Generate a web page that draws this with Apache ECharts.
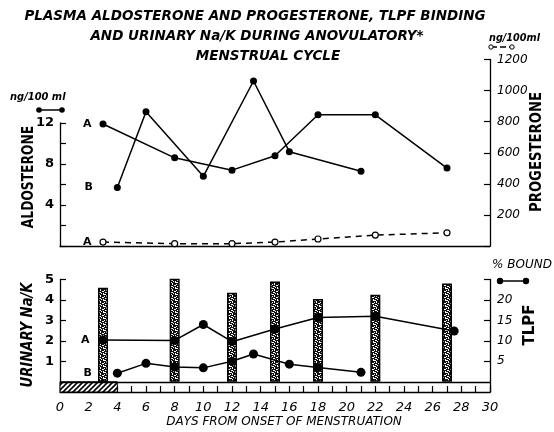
<!DOCTYPE html>
<html><head><meta charset="utf-8">
<script src="https://cdn.jsdelivr.net/npm/echarts@6/dist/echarts.min.js"></script>
<style>html,body{margin:0;padding:0;background:#fff}#c{width:554px;height:432px}</style>
</head><body><div id="c"></div>
<script>
// ---- data ----
const aldoADays = [3, 8, 12, 15, 18, 22, 27];
const aldoAValues = [11.9, 8.6, 7.4, 8.8, 12.8, 12.8, 7.6];
const aldoBDays = [4, 6, 10, 13.5, 16, 21];
const aldoBValues = [5.7, 13.1, 6.8, 16.1, 9.2, 7.3];
const progADays = [3, 8, 12, 15, 18, 22, 27];
const progAValues = [25, 15, 15, 25, 45, 70, 85];
const naKDays = [3, 8, 12, 15, 18, 22, 27];
const naKValues = [4.6, 5.1, 4.35, 4.9, 4.05, 4.25, 4.8];
const tlpfADays = [3, 8, 10, 12, 15, 18, 22, 27.5];
const tlpfAValues = [10.2, 10.1, 14.0, 9.8, 12.9, 15.7, 16.0, 12.4];
const tlpfBDays = [4, 6, 8, 10, 12, 13.5, 16, 18, 21];
const tlpfBValues = [2.1, 4.5, 3.6, 3.4, 5.0, 6.8, 4.3, 3.5, 2.3];
const aldoLabelTicks = [4, 8, 12];
const naKTicks = [1, 2, 3, 4, 5];
const tlpfTickValues = [5, 10, 15, 20, 25];
const tlpfLabelTicks = [5, 10, 15, 20];
const hatchDays = [0, 4];
const naKAxisMin = -0.5;
const tlpfAxisMin = -2.5;

// ---- patterns (styling only) ----
function makeBarPattern() {
  const c = document.createElement('canvas'); c.width = 6; c.height = 6;
  const g = c.getContext('2d');
  g.fillStyle = '#111'; g.fillRect(0, 0, 6, 6);
  g.fillStyle = '#fff';
  [[1,0,2,1],[4,1,1,2],[0,3,2,1],[2,2,1,1],[3,4,2,1],[5,5,1,1],[1,5,1,1],[3,0,1,1]].forEach(r => g.fillRect(r[0], r[1], r[2], r[3]));
  return c;
}
function makeHatch() {
  const c = document.createElement('canvas'); c.width = 5; c.height = 5;
  const g = c.getContext('2d');
  g.fillStyle = '#fff'; g.fillRect(0, 0, 5, 5);
  g.strokeStyle = '#000'; g.lineWidth = 1.6;
  g.beginPath(); g.moveTo(-1, 6); g.lineTo(6, -1); g.stroke();
  g.beginPath(); g.moveTo(-1, 1); g.lineTo(1, -1); g.stroke();
  g.beginPath(); g.moveTo(4, 6); g.lineTo(6, 4); g.stroke();
  return c;
}

const FONT = 'DejaVu Sans';
function pairs(xs, ys, firstLabel) {
  return xs.map((x, i) => {
    const item = { value: [x, ys[i]] };
    if (i === 0 && firstLabel) item.label = firstLabel;
    return item;
  });
}
function lbl(text, dist) {
  return { show: true, formatter: text, position: 'left', distance: dist, color: '#000',
           fontFamily: FONT, fontWeight: 'bold', fontSize: 11 };
}
const blk = '#000';
const lineStyle = { color: blk, width: 1.5 };
const axLine = { show: true, onZero: false, lineStyle: { color: blk, width: 1.3 } };

const chart = echarts.init(document.getElementById('c'), null, { renderer: 'canvas' });
const option = {
  backgroundColor: '#fff',
  animation: false,
  grid: [
    { left: 60, width: 430, top: 123, height: 123, outerBoundsMode: 'none' },
    { left: 60, width: 430, top: 59.5, height: 186.5, outerBoundsMode: 'none' },
    { left: 60, width: 430, top: 279.5, height: 112.5, outerBoundsMode: 'none' }
  ],
  xAxis: [
    { gridIndex: 0, type: 'value', min: 0, max: 30, axisLine: axLine,
      axisTick: { show: false }, axisLabel: { show: false }, splitLine: { show: false } },
    { gridIndex: 1, type: 'value', min: 0, max: 30, show: false },
    { gridIndex: 2, type: 'value', min: 0, max: 30, interval: 1, axisLine: axLine,
      axisTick: { show: true, inside: true, length: 6, lineStyle: { color: blk, width: 1.2 } },
      axisLabel: { show: true, margin: 9, color: blk, fontFamily: FONT, fontStyle: 'italic', fontSize: 13,
        formatter: v => (v % 2 === 0 ? String(v) : '') },
      splitLine: { show: false } }
  ],
  yAxis: [
    { gridIndex: 0, type: 'value', min: 0, max: 12, interval: 2, position: 'left', axisLine: axLine,
      axisTick: { show: true, inside: true, length: 6, lineStyle: { color: blk, width: 1.2 } },
      axisLabel: { margin: 6, color: blk, fontFamily: FONT, fontWeight: 'bold', fontSize: 13,
        formatter: v => (aldoLabelTicks.indexOf(v) >= 0 ? String(v) : '') },
      splitLine: { show: false } },
    { gridIndex: 1, type: 'value', min: 0, max: 1200, interval: 200, position: 'right', axisLine: axLine,
      axisTick: { show: true, inside: true, length: 6, lineStyle: { color: blk, width: 1.2 } },
      axisLabel: { margin: 7, color: blk, fontFamily: FONT, fontStyle: 'italic', fontSize: 12,
        formatter: v => (v > 0 ? String(v) : '') },
      splitLine: { show: false } },
    { gridIndex: 2, type: 'value', min: naKAxisMin, max: 5, position: 'left', axisLine: axLine,
      axisTick: { show: true, inside: true, length: 6, customValues: naKTicks, lineStyle: { color: blk, width: 1.2 } },
      axisLabel: { margin: 6, color: blk, fontFamily: FONT, fontWeight: 'bold', fontSize: 13, customValues: naKTicks },
      splitLine: { show: false } },
    { gridIndex: 2, type: 'value', min: tlpfAxisMin, max: 25, position: 'right', axisLine: axLine,
      axisTick: { show: true, inside: true, length: 6, customValues: tlpfTickValues, lineStyle: { color: blk, width: 1.2 } },
      axisLabel: { margin: 7, color: blk, fontFamily: FONT, fontStyle: 'italic', fontSize: 12, customValues: tlpfLabelTicks },
      splitLine: { show: false } }
  ],
  series: [
    { name: 'Aldosterone A', type: 'line', xAxisIndex: 0, yAxisIndex: 0, clip: false,
      data: pairs(aldoADays, aldoAValues, lbl('A', 8)), symbol: 'circle', symbolSize: 7,
      itemStyle: { color: blk }, lineStyle: lineStyle, z: 5 },
    { name: 'Aldosterone B', type: 'line', xAxisIndex: 0, yAxisIndex: 0, clip: false,
      data: pairs(aldoBDays, aldoBValues, lbl('B', 21)), symbol: 'circle', symbolSize: 7,
      itemStyle: { color: blk }, lineStyle: lineStyle, z: 5 },
    { name: 'Progesterone A', type: 'line', xAxisIndex: 1, yAxisIndex: 1, clip: false,
      data: pairs(progADays, progAValues, lbl('A', 8)), symbol: 'circle', symbolSize: 6,
      itemStyle: { color: '#fff', borderColor: blk, borderWidth: 1.2 },
      lineStyle: { color: blk, width: 1.5, type: [6, 5] }, z: 5 },
    { name: 'Na/K', type: 'bar', xAxisIndex: 2, yAxisIndex: 2, barWidth: 10,
      data: naKDays.map((d, i) => [d, naKValues[i]]),
      itemStyle: { color: { image: makeBarPattern(), repeat: 'repeat' }, borderColor: '#000', borderWidth: 1.5 },
      z: 3,
      markLine: { silent: true, symbol: 'none', label: { show: false },
        lineStyle: { color: blk, type: 'solid', width: 1.3 }, data: [{ yAxis: 0 }] },
      markArea: { silent: true, label: { show: false },
        itemStyle: { color: { image: makeHatch(), repeat: 'repeat' }, borderColor: blk, borderWidth: 1 },
        data: [[{ xAxis: hatchDays[0], yAxis: naKAxisMin }, { xAxis: hatchDays[1], yAxis: 0 }]] } },
    { name: 'TLPF A', type: 'line', xAxisIndex: 2, yAxisIndex: 3,
      data: pairs(tlpfADays, tlpfAValues, lbl('A', 9)), symbol: 'circle', symbolSize: 9,
      itemStyle: { color: blk }, lineStyle: lineStyle, z: 5 },
    { name: 'TLPF B', type: 'line', xAxisIndex: 2, yAxisIndex: 3,
      data: pairs(tlpfBDays, tlpfBValues, lbl('B', 21)), symbol: 'circle', symbolSize: 9,
      itemStyle: { color: blk }, lineStyle: lineStyle, z: 5 }
  ],
  graphic: [
    { type: 'text', x: 255, y: 16, style: { text: 'PLASMA ALDOSTERONE AND PROGESTERONE, TLPF BINDING', fill: blk, font: 'italic bold 13.5px "DejaVu Sans"', textAlign: 'center', textVerticalAlign: 'middle' } },
    { type: 'text', x: 257, y: 36, style: { text: 'AND URINARY Na/K DURING ANOVULATORY*', fill: blk, font: 'italic bold 13.5px "DejaVu Sans"', textAlign: 'center', textVerticalAlign: 'middle' } },
    { type: 'text', x: 268, y: 56, style: { text: 'MENSTRUAL CYCLE', fill: blk, font: 'italic bold 13.5px "DejaVu Sans"', textAlign: 'center', textVerticalAlign: 'middle' } },
    // axis names
    { type: 'text', x: 29, y: 177, rotation: Math.PI / 2, scaleX: 0.82, style: { text: 'ALDOSTERONE', fill: blk, font: 'bold 15px "DejaVu Sans"', textAlign: 'center', textVerticalAlign: 'middle' } },
    { type: 'text', x: 537, y: 152, rotation: Math.PI / 2, scaleX: 0.88, style: { text: 'PROGESTERONE', fill: blk, font: 'bold 15px "DejaVu Sans"', textAlign: 'center', textVerticalAlign: 'middle' } },
    { type: 'text', x: 28, y: 335, rotation: Math.PI / 2, scaleX: 0.88, style: { text: 'URINARY Na/K', fill: blk, font: 'italic bold 15px "DejaVu Sans"', textAlign: 'center', textVerticalAlign: 'middle' } },
    { type: 'text', x: 530, y: 325, rotation: Math.PI / 2, style: { text: 'TLPF', fill: blk, font: 'bold 15px "DejaVu Sans"', textAlign: 'center', textVerticalAlign: 'middle' } },
    { type: 'text', x: 284, y: 422, style: { text: 'DAYS FROM ONSET OF MENSTRUATION', fill: blk, font: 'italic 12px "DejaVu Sans"', textAlign: 'center', textVerticalAlign: 'middle' } },
    // unit keys
    { type: 'text', x: 10, y: 97, scaleX: 0.9, style: { text: 'ng/100 ml', fill: blk, font: 'italic bold 11px "DejaVu Sans"', textVerticalAlign: 'middle' } },
    { type: 'line', shape: { x1: 39, y1: 110, x2: 62, y2: 110 }, style: { stroke: blk, lineWidth: 1.5 } },
    { type: 'circle', shape: { cx: 39, cy: 110, r: 2.8 }, style: { fill: blk } },
    { type: 'circle', shape: { cx: 62, cy: 110, r: 2.8 }, style: { fill: blk } },
    { type: 'text', x: 489, y: 38, scaleX: 0.88, style: { text: 'ng/100ml', fill: blk, font: 'italic bold 11px "DejaVu Sans"', textVerticalAlign: 'middle' } },
    { type: 'line', shape: { x1: 491, y1: 47, x2: 512, y2: 47 }, style: { stroke: blk, lineWidth: 1.3, lineDash: [6, 3] } },
    { type: 'circle', shape: { cx: 491, cy: 47, r: 2.2 }, style: { fill: '#fff', stroke: blk, lineWidth: 1 } },
    { type: 'circle', shape: { cx: 512, cy: 47, r: 2.2 }, style: { fill: '#fff', stroke: blk, lineWidth: 1 } },
    { type: 'text', x: 492, y: 265, style: { text: '% BOUND', fill: blk, font: 'italic 12px "DejaVu Sans"', textVerticalAlign: 'middle' } },
    { type: 'line', shape: { x1: 500, y1: 281, x2: 526, y2: 281 }, style: { stroke: blk, lineWidth: 1.5 } },
    { type: 'circle', shape: { cx: 500, cy: 281, r: 3.2 }, style: { fill: blk } },
    { type: 'circle', shape: { cx: 526, cy: 281, r: 3.2 }, style: { fill: blk } }
  ]
};
chart.setOption(option);
</script></body></html>
